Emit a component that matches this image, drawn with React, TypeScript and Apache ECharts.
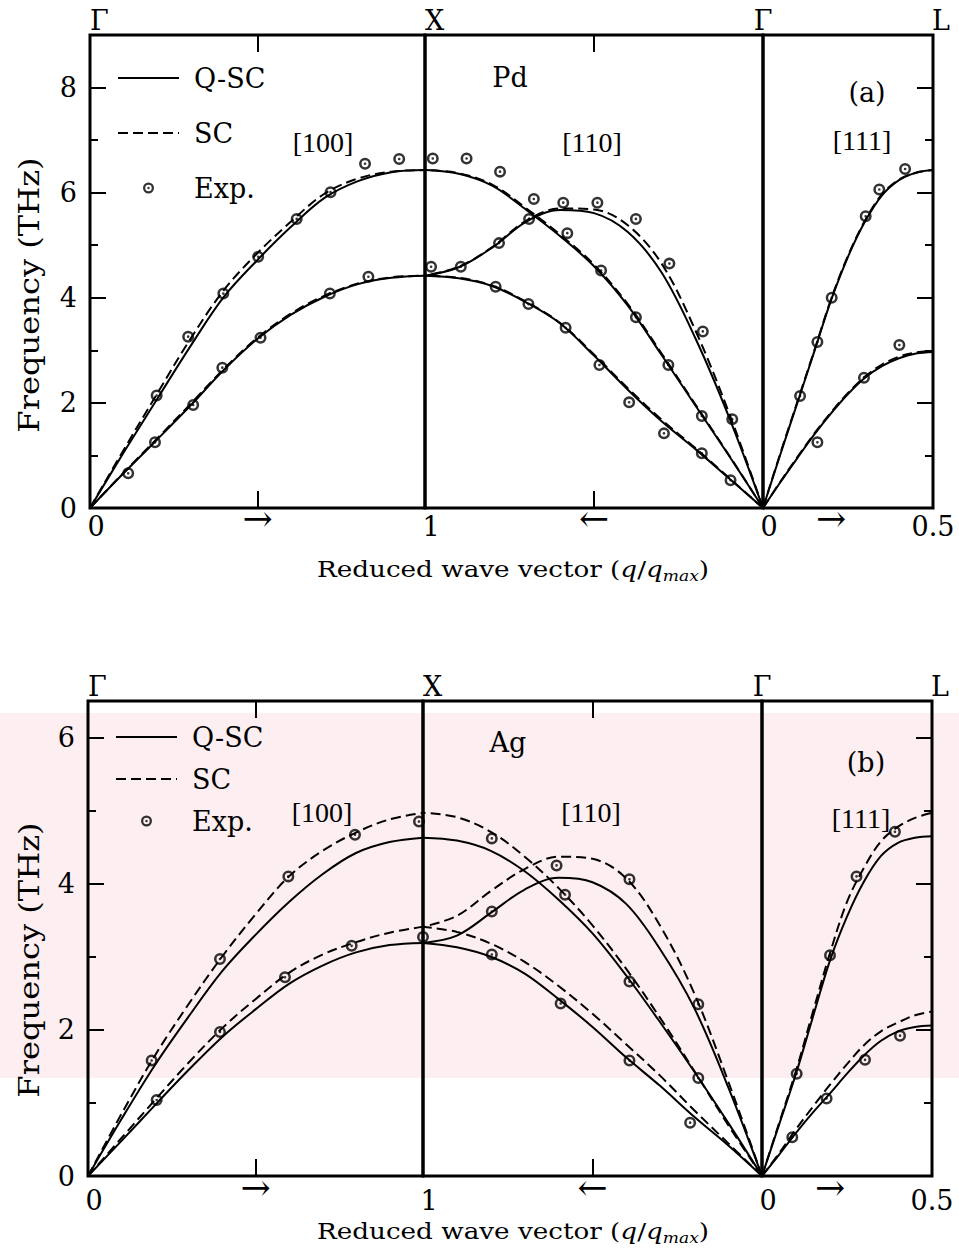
import React, { useEffect, useRef } from 'react';
import * as echarts from 'echarts';

// ---------------- reduced wave vector samples ----------------
const Q100 = [0, 0.1, 0.2, 0.3, 0.4, 0.5, 0.6, 0.7, 0.8, 0.9, 1];
const Q110 = [0, 0.1, 0.2, 0.3, 0.4, 0.5, 0.6, 0.7, 0.8, 0.9, 1];
const Q111 = [0, 0.05, 0.1, 0.15, 0.2, 0.25, 0.3, 0.35, 0.4, 0.45, 0.5];

// ---------------- (a) Pd ----------------
const PD_100_L_QSC = [0, 1.05, 2.07, 3.08, 4.02, 4.72, 5.35, 5.9, 6.22, 6.39, 6.43];
const PD_100_L_SC = [0, 1.1, 2.17, 3.22, 4.15, 4.85, 5.45, 5.98, 6.27, 6.4, 6.43];
const PD_100_T_QSC = [0, 0.66, 1.3, 1.95, 2.63, 3.22, 3.68, 4.02, 4.26, 4.38, 4.42];
const PD_100_T_SC = [0, 0.67, 1.32, 1.98, 2.65, 3.24, 3.7, 4.04, 4.27, 4.39, 4.42];
const PD_110_A_QSC = [0, 0.99, 1.95, 2.91, 3.85, 4.6, 5.17, 5.67, 6.13, 6.36, 6.43];
const PD_110_A_SC = [0, 1.0, 1.97, 2.94, 3.88, 4.63, 5.2, 5.7, 6.15, 6.37, 6.43];
const PD_110_B_QSC = [0, 1.72, 3.23, 4.48, 5.25, 5.61, 5.67, 5.45, 4.96, 4.58, 4.42];
const PD_110_B_SC = [0, 1.8, 3.38, 4.65, 5.38, 5.68, 5.7, 5.47, 4.97, 4.59, 4.42];
const PD_110_C_QSC = [0, 0.56, 1.12, 1.65, 2.25, 2.9, 3.51, 3.91, 4.22, 4.37, 4.42];
const PD_110_C_SC = [0, 0.57, 1.14, 1.68, 2.28, 2.92, 3.52, 3.92, 4.23, 4.38, 4.42];
const PD_111_U_QSC = [0, 1.0, 1.98, 2.96, 3.95, 4.78, 5.45, 5.95, 6.24, 6.38, 6.43];
const PD_111_U_SC = [0, 1.02, 2.0, 2.98, 3.97, 4.8, 5.47, 5.97, 6.25, 6.38, 6.43];
const PD_111_D_QSC = [0, 0.48, 0.94, 1.39, 1.8, 2.17, 2.48, 2.7, 2.85, 2.94, 2.97];
const PD_111_D_SC = [0, 0.49, 0.96, 1.41, 1.82, 2.19, 2.5, 2.73, 2.88, 2.96, 2.99];

const PD_EXP_100 = [
  [0.114, 0.66], [0.194, 1.25], [0.308, 1.96], [0.395, 2.67], [0.509, 3.24], [0.716, 4.08], [0.831, 4.4],
  [0.199, 2.14], [0.293, 3.26], [0.398, 4.08], [0.502, 4.78], [0.617, 5.5], [0.718, 6.01], [0.821, 6.55], [0.923, 6.64],
];
const PD_EXP_110 = [
  [0.977, 6.65], [0.877, 6.65], [0.778, 6.4], [0.678, 5.88], [0.591, 5.81], [0.49, 5.81], [0.376, 5.5],
  [0.277, 4.65], [0.178, 3.36], [0.091, 1.69],
  [0.982, 4.59], [0.894, 4.59], [0.781, 5.04], [0.692, 5.5],
  [0.579, 5.23], [0.479, 4.52], [0.376, 3.63], [0.28, 2.72], [0.181, 1.75],
  [0.791, 4.21], [0.694, 3.88], [0.584, 3.43], [0.484, 2.72], [0.396, 2.01], [0.293, 1.42], [0.181, 1.04], [0.096, 0.53],
];
const PD_EXP_111 = [
  [0.109, 2.13], [0.16, 3.16], [0.202, 4.0], [0.302, 5.55], [0.342, 6.06], [0.418, 6.45],
  [0.16, 1.25], [0.297, 2.48], [0.401, 3.1],
];

// ---------------- (b) Ag ----------------
const AG_100_L_QSC = [0, 0.78, 1.52, 2.18, 2.8, 3.3, 3.75, 4.13, 4.42, 4.57, 4.63];
const AG_100_L_SC = [0, 0.85, 1.65, 2.35, 3.0, 3.58, 4.1, 4.45, 4.7, 4.88, 4.97];
const AG_100_T_QSC = [0, 0.48, 0.97, 1.45, 1.9, 2.28, 2.63, 2.88, 3.06, 3.16, 3.19];
const AG_100_T_SC = [0, 0.52, 1.04, 1.55, 2.02, 2.42, 2.78, 3.03, 3.2, 3.33, 3.41];
const AG_110_A_QSC = [0, 0.73, 1.43, 2.1, 2.74, 3.32, 3.78, 4.17, 4.45, 4.59, 4.63];
const AG_110_A_SC = [0, 0.7, 1.44, 2.16, 2.83, 3.43, 3.94, 4.37, 4.71, 4.91, 4.97];
const AG_110_B_QSC = [0, 1.22, 2.3, 3.1, 3.72, 4.02, 4.08, 3.92, 3.6, 3.29, 3.19];
const AG_110_B_SC = [0, 1.3, 2.5, 3.42, 4.07, 4.34, 4.37, 4.2, 3.9, 3.56, 3.41];
const AG_110_C_QSC = [0, 0.42, 0.81, 1.23, 1.62, 2.04, 2.42, 2.77, 3.0, 3.13, 3.19];
const AG_110_C_SC = [0, 0.45, 0.9, 1.37, 1.8, 2.22, 2.6, 2.93, 3.18, 3.34, 3.41];
const AG_111_U_QSC = [0, 0.7, 1.4, 2.18, 2.95, 3.55, 4.03, 4.38, 4.56, 4.63, 4.65];
const AG_111_U_SC = [0, 0.72, 1.44, 2.25, 3.05, 3.75, 4.22, 4.58, 4.78, 4.9, 4.97];
const AG_111_D_QSC = [0, 0.29, 0.59, 0.87, 1.13, 1.4, 1.65, 1.85, 1.98, 2.04, 2.06];
const AG_111_D_SC = [0, 0.31, 0.64, 0.95, 1.25, 1.53, 1.79, 1.98, 2.1, 2.2, 2.25];

const AG_EXP_100 = [
  [0.19, 1.58], [0.394, 2.97], [0.598, 4.1], [0.797, 4.67], [0.988, 4.85],
  [0.205, 1.04], [0.394, 1.97], [0.588, 2.72], [0.787, 3.15], [1.0, 3.27],
];
const AG_EXP_110 = [
  [0.797, 4.62], [0.606, 4.25], [0.581, 3.85], [0.391, 4.06], [0.391, 2.66], [0.188, 2.35], [0.188, 1.34],
  [0.797, 3.62], [0.797, 3.03], [0.594, 2.36], [0.391, 1.58], [0.212, 0.73],
];
const AG_EXP_111 = [
  [0.102, 1.4], [0.2, 3.02], [0.278, 4.1], [0.391, 4.71],
  [0.089, 0.53], [0.19, 1.06], [0.303, 1.59], [0.406, 1.92],
];

// ---------------- tick labels / names ----------------
const TOP_LABELS = ['Γ', 'X', 'Γ', 'L'];
const BOTTOM_LABELS = ['0', '1', '0', '0.5'];
const DIRECTION_ARROWS = ['→', '←', '→'];
const ARROW_AT = [0.5, 0.5, 0.2];
const SEG_MAX = [1, 1, 0.5];
const LEGEND_NAMES = ['Q-SC', 'SC', 'Exp.'];
const Y_TITLE = 'Frequency (THz)';

const PANEL_DATA = [
  {
    curves: [
      { seg: 0, q: Q100, qsc: PD_100_L_QSC, sc: PD_100_L_SC },
      { seg: 0, q: Q100, qsc: PD_100_T_QSC, sc: PD_100_T_SC },
      { seg: 1, q: Q110, qsc: PD_110_A_QSC, sc: PD_110_A_SC },
      { seg: 1, q: Q110, qsc: PD_110_B_QSC, sc: PD_110_B_SC },
      { seg: 1, q: Q110, qsc: PD_110_C_QSC, sc: PD_110_C_SC },
      { seg: 2, q: Q111, qsc: PD_111_U_QSC, sc: PD_111_U_SC },
      { seg: 2, q: Q111, qsc: PD_111_D_QSC, sc: PD_111_D_SC },
    ],
    exp: [PD_EXP_100, PD_EXP_110, PD_EXP_111],
    labels: ['Pd', '[100]', '[110]', '(a)', '[111]'],
  },
  {
    curves: [
      { seg: 0, q: Q100, qsc: AG_100_L_QSC, sc: AG_100_L_SC },
      { seg: 0, q: Q100, qsc: AG_100_T_QSC, sc: AG_100_T_SC },
      { seg: 1, q: Q110, qsc: AG_110_A_QSC, sc: AG_110_A_SC },
      { seg: 1, q: Q110, qsc: AG_110_B_QSC, sc: AG_110_B_SC },
      { seg: 1, q: Q110, qsc: AG_110_C_QSC, sc: AG_110_C_SC },
      { seg: 2, q: Q111, qsc: AG_111_U_QSC, sc: AG_111_U_SC },
      { seg: 2, q: Q111, qsc: AG_111_D_QSC, sc: AG_111_D_SC },
    ],
    exp: [AG_EXP_100, AG_EXP_110, AG_EXP_111],
    labels: ['Ag', '[100]', '[110]', '(b)', '[111]'],
  },
];

// ---------------- layout (pixels) ----------------
const LAYOUT = [
  {
    top: 35, height: 473, xs: [90, 425, 763, 933], ymax: 9,
    numMargin: 5, arrowMargin: -8,
    legend: { left: 117, top: 63, gap: 25 },
    xTitleY: 569, yTitleY: 295,
    labelPos: [[510, 77], [323, 142], [592, 142], [867, 92], [862, 140]],
  },
  {
    top: 701, height: 475, xs: [88, 423, 762, 932], ymax: 6.5,
    numMargin: 11, arrowMargin: -7,
    legend: { left: 115, top: 722, gap: 12 },
    xTitleY: 1231, yTitleY: 960,
    labelPos: [[508, 742], [322, 812], [591, 812], [866, 762], [861, 818]],
  },
];

const FONT = '"DejaVu Serif", "Liberation Serif", serif';
const FONT_B = '"Liberation Serif", "DejaVu Serif", serif';
const FS = 27;
const ARROW_FS = 36;
const EXP_SYMBOL =
  'path://M0,-5A5,5,0,1,1,0,5A5,5,0,1,1,0,-5ZM0,-2.9A2.9,2.9,0,1,0,0,2.9A2.9,2.9,0,1,0,0,-2.9ZM0,-1.1A1.1,1.1,0,1,1,0,1.1A1.1,1.1,0,1,1,0,-1.1Z';

const near = (a: number, b: number) => Math.abs(a - b) < 1e-6;

function buildOption() {
  const grid: any[] = [];
  const xAxis: any[] = [];
  const yAxis: any[] = [];
  const series: any[] = [];
  const legend: any[] = [];
  const graphic: any[] = [];
  const tickStyle = { color: '#000', width: 2 };
  const hiddenSymbol = { color: 'rgba(0,0,0,0)', borderColor: 'rgba(0,0,0,0)', borderWidth: 0, opacity: 0 };

  // faint watermark band behind panel (b)
  graphic.push({
    type: 'rect', z: -5, silent: true,
    shape: { x: 0, y: 713, width: 959, height: 365 },
    style: { fill: '#fdeef1' },
  });

  LAYOUT.forEach((L, p) => {
    const D = PANEL_DATA[p];
    for (let s = 0; s < 3; s++) {
      const gi = p * 3 + s;
      grid.push({
        left: L.xs[s], top: L.top, width: L.xs[s + 1] - L.xs[s], height: L.height,
        show: true, borderColor: '#000', borderWidth: 3, backgroundColor: 'transparent',
      });
      const base = {
        type: 'value', gridIndex: gi, min: 0, max: SEG_MAX[s], inverse: s === 1,
        splitLine: { show: false }, axisLine: { show: false, onZero: false },
      };
      // numbers
      xAxis.push({
        ...base, position: 'bottom', interval: s === 2 ? 0.1 : 0.5,
        axisTick: { show: s !== 2, inside: true, length: 17, lineStyle: tickStyle },
        axisLabel: {
          margin: L.numMargin, color: '#000', fontFamily: FONT, fontSize: FS,
          formatter: (v: number) => {
            if (s === 0) return near(v, 0) ? `{s|${BOTTOM_LABELS[0]}}` : near(v, 1) ? `{s|${BOTTOM_LABELS[1]}}` : '';
            if (s === 1) return near(v, 0) ? `{s|${BOTTOM_LABELS[2]}}` : '';
            return near(v, 0.5) ? BOTTOM_LABELS[3] : '';
          },
          rich: { s: { padding: [0, 0, 0, 12], fontFamily: FONT, fontSize: FS, color: '#000' } },
        },
      });
      // direction arrows
      xAxis.push({
        ...base, position: 'bottom', interval: s === 2 ? 0.1 : 0.5,
        axisTick: { show: false },
        axisLabel: {
          margin: L.arrowMargin, color: '#000', fontFamily: FONT, fontSize: ARROW_FS,
          formatter: (v: number) => (near(v, ARROW_AT[s]) ? DIRECTION_ARROWS[s] : ''),
        },
      });
      // top: symmetry points
      xAxis.push({
        ...base, position: 'top', interval: 0.5,
        axisTick: { show: s !== 2, inside: true, length: 17, lineStyle: tickStyle },
        axisLabel: {
          margin: 1, color: '#000', fontFamily: FONT, fontSize: FS, align: s === 0 ? 'left' : 'center',
          formatter: (v: number) => {
            if (s === 0) return near(v, 0) ? TOP_LABELS[0] : near(v, 1) ? TOP_LABELS[1] : '';
            if (s === 1) return '';
            return near(v, 0) ? TOP_LABELS[2] : near(v, 0.5) ? `{l|${TOP_LABELS[3]}}` : '';
          },
          rich: { l: { padding: [0, 0, 0, 16], fontFamily: FONT, fontSize: FS, color: '#000' } },
        },
      });
    }
    const ybase = { type: 'value', min: 0, max: L.ymax, splitLine: { show: false }, axisLine: { show: false, onZero: false } };
    // y: left major (labels), left minor, middle hidden, right major, right minor
    yAxis.push({
      ...ybase, gridIndex: p * 3, position: 'left', interval: 2,
      axisTick: { inside: true, length: 16, lineStyle: tickStyle },
      axisLabel: {
        margin: 13, color: '#000', fontFamily: FONT, fontSize: FS,
        formatter: (v: number) => (v % 2 === 0 ? String(v) : ''),
      },
    });
    yAxis.push({
      ...ybase, gridIndex: p * 3, position: 'left', interval: 1,
      axisTick: { inside: true, length: 8, lineStyle: tickStyle }, axisLabel: { show: false },
    });
    yAxis.push({ ...ybase, gridIndex: p * 3 + 1, show: false });
    yAxis.push({
      ...ybase, gridIndex: p * 3 + 2, position: 'right', interval: 2,
      axisTick: { inside: true, length: 16, lineStyle: tickStyle }, axisLabel: { show: false },
    });
    yAxis.push({
      ...ybase, gridIndex: p * 3 + 2, position: 'right', interval: 1,
      axisTick: { inside: true, length: 8, lineStyle: tickStyle }, axisLabel: { show: false },
    });

    const yFor = [0, 2, 3];
    const mkLine = (name: string, seg: number, q: number[], f: number[], dashed: boolean) => ({
      type: 'line', name, silent: true,
      xAxisIndex: (p * 3 + seg) * 3, yAxisIndex: p * 5 + yFor[seg],
      data: q.map((x, i) => [x, f[i]]),
      smooth: 0.35, symbol: 'none', showSymbol: false,
      lineStyle: { color: '#000', width: 2, type: dashed ? [10, 5] : 'solid' },
      itemStyle: { color: '#000' },
      z: dashed ? 2 : 3,
    });
    D.curves.forEach((c) => {
      series.push(mkLine(LEGEND_NAMES[1], c.seg, c.q, c.sc, true));
      series.push(mkLine(LEGEND_NAMES[0], c.seg, c.q, c.qsc, false));
    });
    D.exp.forEach((pts, seg) => {
      series.push({
        type: 'scatter', name: LEGEND_NAMES[2], silent: true,
        xAxisIndex: (p * 3 + seg) * 3, yAxisIndex: p * 5 + yFor[seg],
        data: pts, symbol: EXP_SYMBOL, symbolSize: 12,
        itemStyle: { color: '#000' }, z: 4,
      });
    });

    legend.push({
      data: [
        { name: LEGEND_NAMES[0], itemStyle: hiddenSymbol },
        { name: LEGEND_NAMES[1], itemStyle: hiddenSymbol },
        { name: LEGEND_NAMES[2] },
      ],
      orient: 'vertical', left: L.legend.left, top: L.legend.top,
      itemWidth: 61, itemHeight: 11, itemGap: L.legend.gap, selectedMode: false,
      padding: 0,
      textStyle: { fontFamily: FONT, fontSize: FS, color: '#000', lineHeight: 30, padding: [0, 0, 0, 10] },
    });

    // panel annotations
    D.labels.forEach((t, i) => {
      const isBracket = t.startsWith('[');
      const font = isBracket ? `28px ${FONT_B}` : `${FS}px ${FONT}`;
      graphic.push({
        type: 'text', x: L.labelPos[i][0], y: L.labelPos[i][1], silent: true,
        style: {
          text: t, font, fill: '#000',
          align: 'center', verticalAlign: 'middle', textAlign: 'center', textVerticalAlign: 'middle',
        },
      });
    });

    // axis titles
    graphic.push({
      type: 'text', x: 513, y: L.xTitleY, scaleX: 1.14, silent: true,
      style: {
        text: '{n|Reduced wave vector (}{i|q}{n|/}{i|q}{s|max}{n|)}',
        fill: '#000', align: 'center', verticalAlign: 'middle', textAlign: 'center', textVerticalAlign: 'middle',
        rich: {
          n: { fontFamily: 'DejaVu Serif', fontSize: 23, lineHeight: 28, fill: '#000' },
          i: { fontFamily: 'DejaVu Serif', fontStyle: 'italic', fontSize: 23, lineHeight: 28, fill: '#000' },
          s: { fontFamily: 'DejaVu Serif', fontStyle: 'italic', fontSize: 15, lineHeight: 15, verticalAlign: 'bottom', fill: '#000' },
        },
      },
    });
    graphic.push({
      type: 'text', x: 29, y: L.yTitleY, rotation: Math.PI / 2, scaleX: 1.19, silent: true,
      style: {
        text: Y_TITLE, font: `${FS}px "DejaVu Serif"`, fill: '#000',
        align: 'center', verticalAlign: 'middle', textAlign: 'center', textVerticalAlign: 'middle',
      },
    });
  });

  return {
    animation: false,
    backgroundColor: '#ffffff',
    grid, xAxis, yAxis, series, legend, graphic,
  };
}

export default function App() {
  const ref = useRef<HTMLDivElement>(null);
  useEffect(() => {
    if (!ref.current) return;
    const chart = echarts.init(ref.current, null, { renderer: 'svg' });
    chart.setOption(buildOption() as any);
    return () => chart.dispose();
  }, []);
  return (
    <div
      ref={ref}
      style={{ position: 'absolute', left: 0, top: 0, width: 959, height: 1259, background: '#fff' }}
    />
  );
}
